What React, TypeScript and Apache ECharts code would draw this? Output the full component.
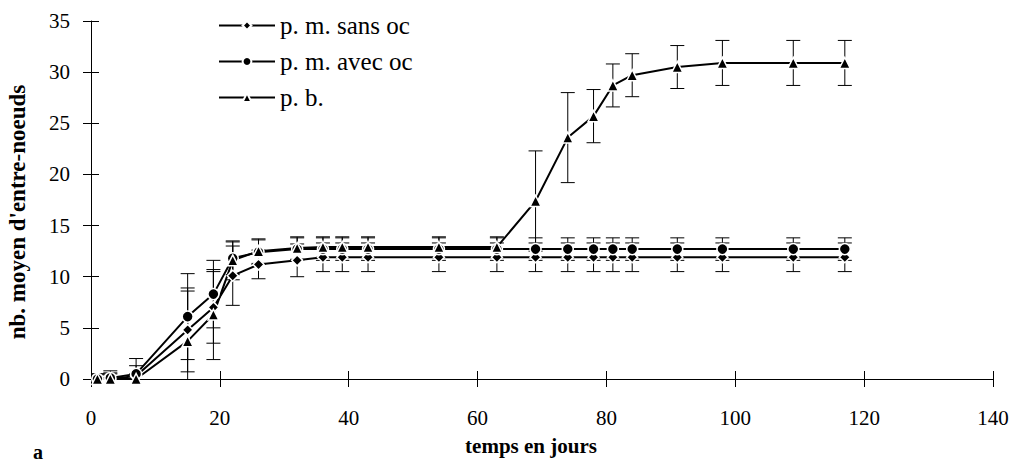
import React, { useEffect, useRef } from "react";
import * as echarts from "echarts";

const days = [1, 3, 7, 15, 19, 22, 26, 32, 36, 39, 43, 54, 63, 69, 74, 78, 81, 84, 91, 98, 109, 117];

const sansOc = [0, 0, 0.3, 4.8, 7.0, 10.1, 11.2, 11.6, 11.9, 11.9, 11.9, 11.9, 11.9, 11.9, 11.9, 11.9, 11.9, 11.9, 11.9, 11.9, 11.9, 11.9];
const sansOcErr = [0.5, 0.6, 1.0, 4.1, 3.5, 2.9, 1.4, 1.6, 1.4, 1.4, 1.4, 1.4, 1.4, 1.4, 1.4, 1.4, 1.4, 1.4, 1.4, 1.4, 1.4, 1.4];

const avecOc = [0, 0.1, 0.5, 6.1, 8.3, 11.8, 12.4, 12.7, 12.7, 12.7, 12.7, 12.7, 12.7, 12.7, 12.7, 12.7, 12.7, 12.7, 12.7, 12.7, 12.7, 12.7];
const avecOcErr = [0.5, 0.7, 1.5, 4.2, 3.3, 1.6, 1.2, 1.1, 1.1, 1.1, 1.1, 1.1, 1.1, 1.1, 1.1, 1.1, 1.1, 1.1, 1.1, 1.1, 1.1, 1.1];

const pb = [0, 0, 0, 3.7, 6.3, 11.6, 12.5, 12.8, 12.9, 12.9, 12.9, 12.9, 12.9, 17.4, 23.6, 25.7, 28.7, 29.7, 30.5, 30.9, 30.9, 30.9];
const pbErr = [0.4, 0.5, 0.5, 4.9, 4.4, 1.9, 1.2, 1.1, 1.0, 1.0, 1.0, 1.0, 1.0, 4.9, 4.4, 2.6, 2.1, 2.1, 2.1, 2.2, 2.2, 2.2];

const xTicks = { min: 0, max: 140, interval: 20 };
const yTicks = { min: 0, max: 35, interval: 5 };

const seriesNames = ["p. m. sans oc", "p. m. avec oc", "p. b."];

const FONT = "'Liberation Serif', 'Times New Roman', serif";

function errData(vals: number[], errs: number[]) {
  return days.map((d, i) => [d, vals[i] - errs[i], vals[i] + errs[i]]);
}

function errSeries(vals: number[], errs: number[]) {
  return {
    type: "custom",
    z: 1,
    silent: true,
    clip: true,
    data: errData(vals, errs),
    renderItem: (params: any, api: any) => {
      const x = api.value(0);
      const lo = api.coord([x, api.value(1)]);
      const hi = api.coord([x, api.value(2)]);
      const w = 7;
      const style = { stroke: "#000", lineWidth: 1 };
      return {
        type: "group",
        children: [
          { type: "line", shape: { x1: lo[0], y1: lo[1], x2: hi[0], y2: hi[1] }, style },
          { type: "line", shape: { x1: lo[0] - w, y1: lo[1], x2: lo[0] + w, y2: lo[1] }, style },
          { type: "line", shape: { x1: hi[0] - w, y1: hi[1], x2: hi[0] + w, y2: hi[1] }, style },
        ],
      };
    },
  };
}

function lineSeries(name: string, vals: number[], symbol: string, size: number) {
  return {
    type: "line",
    name,
    z: 3,
    data: days.map((d, i) => [d, vals[i]]),
    symbol,
    symbolSize: size,
    showAllSymbol: true,
    lineStyle: { color: "#000", width: 2 },
    itemStyle: { color: "#000", borderColor: "#fff", borderWidth: 1.5 },
  };
}

export default function App() {
  const ref = useRef<HTMLDivElement>(null);
  useEffect(() => {
    if (!ref.current) return;
    const chart = echarts.init(ref.current, null, { renderer: "svg" });
    const axisLine = { show: true, lineStyle: { color: "#000", width: 1 } };
    chart.setOption({
      animation: false,
      backgroundColor: "#fff",
      textStyle: { fontFamily: FONT },
      grid: { left: 91, right: 21, top: 21, bottom: 83, containLabel: false },
      legend: {
        orient: "vertical",
        left: 213,
        top: 8,
        itemWidth: 56,
        itemHeight: 11,
        itemGap: 11,
        data: seriesNames,
        textStyle: { fontFamily: FONT, fontSize: 25, color: "#000", lineHeight: 25 },
      },
      xAxis: [
        {
          type: "value",
          ...xTicks,
          position: "bottom",
          axisLine,
          axisTick: { show: true, inside: false, length: 8, lineStyle: { color: "#000" } },
          axisLabel: { fontFamily: FONT, fontSize: 21, color: "#000", margin: 28 },
          splitLine: { show: false },
        },
        {
          type: "value",
          ...xTicks,
          position: "bottom",
          offset: 0,
          axisLine: { show: false },
          axisTick: { show: true, inside: true, length: 8, lineStyle: { color: "#000" } },
          axisLabel: { show: false },
          splitLine: { show: false },
        },
      ],
      yAxis: [
        {
          type: "value",
          ...yTicks,
          position: "left",
          axisLine,
          axisTick: { show: true, inside: false, length: 8, lineStyle: { color: "#000" } },
          axisLabel: { fontFamily: FONT, fontSize: 21, color: "#000", margin: 21 },
          splitLine: { show: false },
        },
        {
          type: "value",
          ...yTicks,
          position: "left",
          offset: 0,
          axisLine: { show: false },
          axisTick: { show: true, inside: true, length: 8, lineStyle: { color: "#000" } },
          axisLabel: { show: false },
          splitLine: { show: false },
        },
      ],
      graphic: [
        {
          type: "text",
          x: 531,
          y: 446,
          style: {
            text: "temps en jours",
            font: `bold 21px ${FONT}`,
            fill: "#000",
            align: "center",
            verticalAlign: "middle",
          },
        },
        {
          type: "text",
          x: 17,
          y: 212,
          rotation: Math.PI / 2,
          style: {
            text: "nb. moyen d'entre-noeuds",
            font: `bold 23px ${FONT}`,
            fill: "#000",
            align: "center",
            verticalAlign: "middle",
          },
        },
        {
          type: "text",
          x: 38,
          y: 442,
          style: {
            text: "a",
            font: `bold 20px ${FONT}`,
            fill: "#000",
            align: "center",
            verticalAlign: "top",
          },
        },
      ],
      series: [
        errSeries(sansOc, sansOcErr),
        errSeries(avecOc, avecOcErr),
        errSeries(pb, pbErr),
        lineSeries(seriesNames[0], sansOc, "diamond", 11),
        lineSeries(seriesNames[1], avecOc, "circle", 11),
        lineSeries(seriesNames[2], pb, "triangle", 11),
      ],
    });
    return () => chart.dispose();
  }, []);
  return (
    <div
      ref={ref}
      style={{ position: "fixed", left: 0, top: 0, width: 1014, height: 462, background: "#fff" }}
    />
  );
}
